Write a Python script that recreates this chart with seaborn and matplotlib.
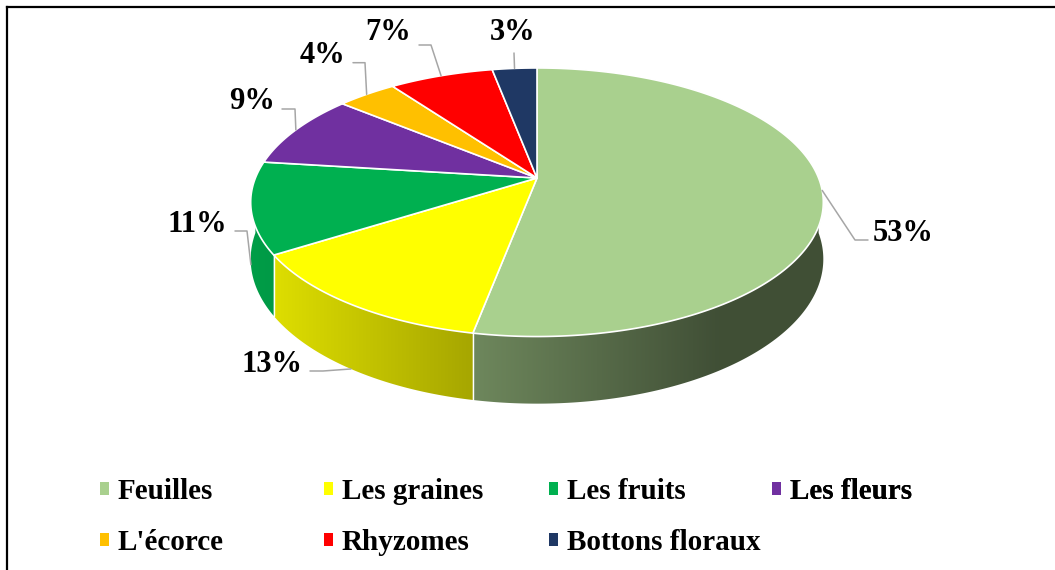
import numpy as np
import matplotlib
matplotlib.use("Agg")
import matplotlib.pyplot as plt
import matplotlib.patches as mpatches
from matplotlib.colors import to_rgb
import seaborn as sns

# data
parts = ["Feuilles", "Les graines", "Les fruits", "Les fleurs",
         "L'écorce", "Rhyzomes", "Bottons floraux"]
shares = [53, 13, 11, 9, 4, 7, 3]
colors = ["#A9D08E", "#FFFF00", "#00B050", "#7030A0",
          "#FFC000", "#FF0000", "#1F3864"]

# label layout: text (x, baseline), leader start, elbow length
label_pos = [(903.5, 241), (272.5, 372), (197.5, 232), (252.5, 109),
             (323, 63), (388.5, 40), (512.5, 40.5)]
leader_start = [(868, 240), (310, 371), (235, 231), (282, 109),
                (353, 62.7), (419, 45), (514, 53)]
elbow_dx = [-13, 13, 12, 13, 12, 12, 0]

sns.set_theme(style="white")
plt.rcParams["font.family"] = ["Liberation Serif", "DejaVu Serif"]

# 3D pie projection (pixel space)
cx, cy = 537.0, 178.0
F, G, k = 281.6, 129.9, 0.1806
depth_h = 55.0


def proj(th):
    th = np.radians(th)
    d = 1 + k * np.cos(th)
    return cx + F * np.sin(th) / d, cy - G * np.cos(th) / d


def depth(th):
    return depth_h / (1 + k * np.cos(np.radians(th)))


def shade(x):
    return np.clip(0.58 - 0.31 * (x - cx) / F, 0.38, 0.9)


fig = plt.figure(figsize=(10.55, 5.7), dpi=100)
ax = fig.add_axes([0, 0, 1, 1])

total = sum(shares)
edges = np.concatenate([[0], np.cumsum(shares)]) * 360.0 / total

# walls
for i, c in enumerate(colors):
    a, b = max(edges[i], 90), min(edges[i + 1], 270)
    if a >= b:
        continue
    th = np.linspace(a, b, int((b - a) * 2) + 2)
    xt, yt = proj(th)
    yb = yt + depth(th)
    pts = np.column_stack([np.concatenate([xt, xt[::-1]]),
                           np.concatenate([yt, yb[::-1]])])
    poly = mpatches.Polygon(pts, closed=True, transform=ax.transData,
                            facecolor="none", edgecolor="none")
    ax.add_patch(poly)
    x0, x1 = pts[:, 0].min(), pts[:, 0].max()
    xs = np.linspace(x0, x1, 200)
    grad = np.array(to_rgb(c))[None, None, :] * shade(xs)[None, :, None]
    im = ax.imshow(grad, extent=(x0, x1, pts[:, 1].max(), pts[:, 1].min()),
                   aspect="auto", interpolation="bilinear", zorder=1)
    im.set_clip_path(poly)

# seams on the wall
for e in edges:
    if 90 < e < 270:
        x, y = proj(e)
        ax.plot([x, x], [y, y + depth(e)], color="white", lw=1.0, zorder=2)

# top face
for i, c in enumerate(colors):
    th = np.linspace(edges[i], edges[i + 1],
                     int((edges[i + 1] - edges[i]) * 2) + 2)
    xt, yt = proj(th)
    ax.fill(np.concatenate([[cx], xt]), np.concatenate([[cy], yt]),
            facecolor=c, edgecolor="white", lw=1.2, joinstyle="round",
            zorder=3)

# labels with leader lines
for i, v in enumerate(shares):
    mid = (edges[i] + edges[i + 1]) / 2
    axx, axy = proj(mid)
    if 100 < mid < 260:
        axy = axy + depth(mid)
    sx, sy = leader_start[i]
    xs = [sx, sx + elbow_dx[i], axx] if elbow_dx[i] else [sx, axx]
    ys = [sy, sy, axy] if elbow_dx[i] else [sy, axy]
    ax.plot(xs, ys, color="#A6A6A6", lw=1.1, zorder=4)
    tx, ty = label_pos[i]
    ax.text(tx, ty, f"{v}%", ha="center", va="baseline", fontsize=22,
            fontweight="bold", color="black", zorder=5)

# legend, one block per column
col_x = [100, 324, 549, 772]
for j, x in enumerate(col_x):
    idx = [j, j + 4] if j + 4 < len(parts) else [j]
    handles = [mpatches.Patch(facecolor=colors[n], edgecolor="none") for n in idx]
    leg = ax.legend(handles, [parts[n] for n in idx], loc="upper left",
                    bbox_to_anchor=(x, 478), bbox_transform=ax.transData,
                    frameon=False, borderpad=0, borderaxespad=0,
                    handlelength=0.31, handleheight=0.31, handletextpad=0.3,
                    labelspacing=0.82, labelcolor="black",
                    prop={"weight": "bold", "size": 21})
    ax.add_artist(leg)

# chart frame
ax.plot([7, 7], [570, 7], color="black", lw=1.6, solid_capstyle="projecting")
ax.plot([7, 1055], [7, 7], color="black", lw=1.6, solid_capstyle="projecting")

ax.set_xlim(0, 1055)
ax.set_ylim(570, 0)
ax.axis("off")
fig.savefig("out.png", dpi=100)
